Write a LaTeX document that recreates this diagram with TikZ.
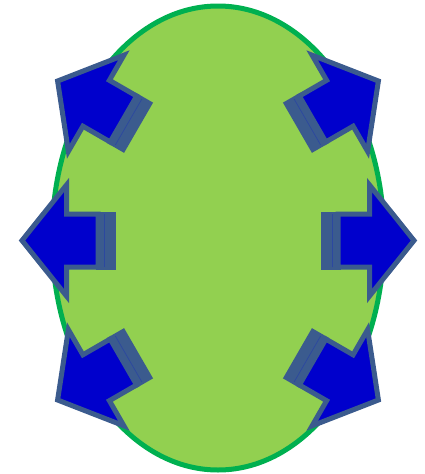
\documentclass[tikz,border=0pt]{standalone}
\usetikzlibrary{calc}
\definecolor{egreen}{HTML}{92D050}
\definecolor{eborder}{HTML}{00B050}
\definecolor{afill}{HTML}{0000CC}
\definecolor{aborder}{HTML}{3B5B8E}
\definecolor{aline}{HTML}{2C48A0}
\tikzset{
  ellipsestyle/.style={fill=egreen, draw=eborder, line width=5pt},
  arrowbody/.style={fill=afill, draw=aborder, line width=5pt, line join=miter, miter limit=10},
  stripebox/.style={fill=aborder},
  stripeline/.style={draw=aline, line width=0.7pt},
  barrow/.pic={
    \fill[stripebox] (73.5,-29) rectangle (93.5,29);
    \draw[stripeline] (82,-26.5) -- (82,26.5);
    \draw[arrowbody] (0,0) -- (44.5,-55.5) -- (44.5,-26.5) -- (76,-26.5)
        -- (76,26.5) -- (44.5,26.5) -- (44.5,55.5) -- cycle;
  }
}
\begin{document}
\begin{tikzpicture}[x=1pt,y=-1pt]
\useasboundingbox (0,0) rectangle (425,474);
\path[ellipsestyle] (218,238) ellipse [x radius=166, y radius=232];
\pic (aleft) at (22,240.5) {barrow};
\pic[rotate=180] (aright) at (414,240.5) {barrow};
\pic[rotate=-30] (aul) at (57.6,81) {barrow};
\pic[rotate=210] (aur) at (378.4,81) {barrow};
\pic[rotate=30] (all) at (57.6,400) {barrow};
\pic[rotate=150] (alr) at (378.4,400) {barrow};
\end{tikzpicture}
\end{document}
